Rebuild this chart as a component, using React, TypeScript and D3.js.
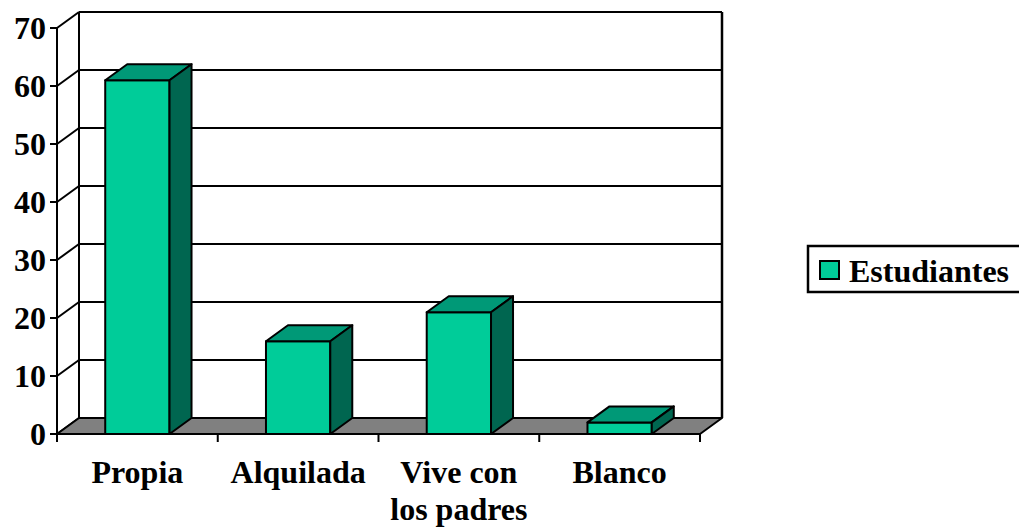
import React from 'react';
import * as d3 from 'd3';

const categories = ['Propia', 'Alquilada', 'Vive con los padres', 'Blanco'];
const labelLines = [['Propia'], ['Alquilada'], ['Vive con', 'los padres'], ['Blanco']];
const estudiantes = [61, 16, 21, 2];
const yTicks = [0, 10, 20, 30, 40, 50, 60, 70];
const seriesName = 'Estudiantes';

const W = 1019;
const H = 527;
const DX = 22; // depth offset of the 3d box
const DY = -16;
const FONT = '"Liberation Serif", "Times New Roman", serif';
const FS = 32;
const FRONT = '#00cc99';
const TOP = '#009977';
const SIDE = '#006650';

export default function App() {
  const x = d3.scaleBand<string>().domain(categories).range([57, 700]);
  const y = d3.scaleLinear().domain([0, 70]).range([434, 28]);
  const y0 = y(0);
  const [xl, xr] = x.range();
  const bw = x.bandwidth() * 0.4;

  const pts = (p: [number, number][]) => p.map(d => d.join(',')).join(' ');

  return (
    <svg width={W} height={H} style={{ position: 'absolute', left: 0, top: 0, background: '#fff' }}>
      {/* back wall grid */}
      {yTicks.map(t => (
        <line key={'g' + t} x1={xl + DX} x2={xr + DX} y1={y(t) + DY} y2={y(t) + DY} stroke="#000" strokeWidth={2} />
      ))}
      <line x1={xl + DX} x2={xl + DX} y1={y(0) + DY} y2={y(70) + DY} stroke="#000" strokeWidth={2} />
      <line x1={xr + DX} x2={xr + DX} y1={y(0) + DY} y2={y(70) + DY} stroke="#000" strokeWidth={2.5} />
      {/* side wall diagonals */}
      {yTicks.map(t => (
        <line key={'d' + t} x1={xl} x2={xl + DX} y1={y(t)} y2={y(t) + DY} stroke="#000" strokeWidth={2} />
      ))}
      {/* floor */}
      <polygon
        points={pts([[xl, y0], [xr, y0], [xr + DX, y0 + DY], [xl + DX, y0 + DY]])}
        fill="#808080" stroke="#000" strokeWidth={2} strokeLinejoin="round"
      />
      {/* front axis */}
      <line x1={xl} x2={xl} y1={y0} y2={y(70)} stroke="#000" strokeWidth={2} />
      <line x1={xl} x2={xr} y1={y0} y2={y0} stroke="#000" strokeWidth={2} />
      {yTicks.map(t => (
        <g key={'t' + t}>
          <line x1={xl - 7} x2={xl} y1={y(t)} y2={y(t)} stroke="#000" strokeWidth={2} />
          <text x={46} y={y(t)} dy="0.35em" textAnchor="end" fontFamily={FONT} fontWeight="bold" fontSize={FS}>{t}</text>
        </g>
      ))}
      {[...categories.map(c => x(c) as number), xr].map((v, i) => (
        <line key={'xt' + i} x1={v} x2={v} y1={y0} y2={y0 + 8} stroke="#000" strokeWidth={2} />
      ))}
      {/* bars */}
      {categories.map((c, i) => {
        const cx = (x(c) as number) + x.bandwidth() / 2;
        const x0 = cx - bw / 2;
        const x1 = cx + bw / 2;
        const yt = y(estudiantes[i]);
        return (
          <g key={c} stroke="#000" strokeWidth={2} strokeLinejoin="round">
            <rect x={x0} y={yt} width={bw} height={y0 - yt} fill={FRONT} />
            <polygon points={pts([[x0, yt], [x1, yt], [x1 + DX, yt + DY], [x0 + DX, yt + DY]])} fill={TOP} />
            <polygon points={pts([[x1, yt], [x1 + DX, yt + DY], [x1 + DX, y0 + DY], [x1, y0]])} fill={SIDE} />
          </g>
        );
      })}
      {/* category labels */}
      {categories.map((c, i) => (
        <text key={'l' + c} x={(x(c) as number) + x.bandwidth() / 2} y={483} textAnchor="middle"
          fontFamily={FONT} fontWeight="bold" fontSize={FS}>
          {labelLines[i].map((s, j) => (
            <tspan key={j} x={(x(c) as number) + x.bandwidth() / 2} dy={j === 0 ? 0 : 37}>{s}</tspan>
          ))}
        </text>
      ))}
      {/* legend */}
      <rect x={808} y={246} width={220} height={46} fill="#fff" stroke="#000" strokeWidth={2.5} />
      <rect x={820} y={261} width={19} height={18} fill={FRONT} stroke="#000" strokeWidth={2} />
      <text x={849} y={282} fontFamily={FONT} fontWeight="bold" fontSize={FS}>{seriesName}</text>
    </svg>
  );
}
